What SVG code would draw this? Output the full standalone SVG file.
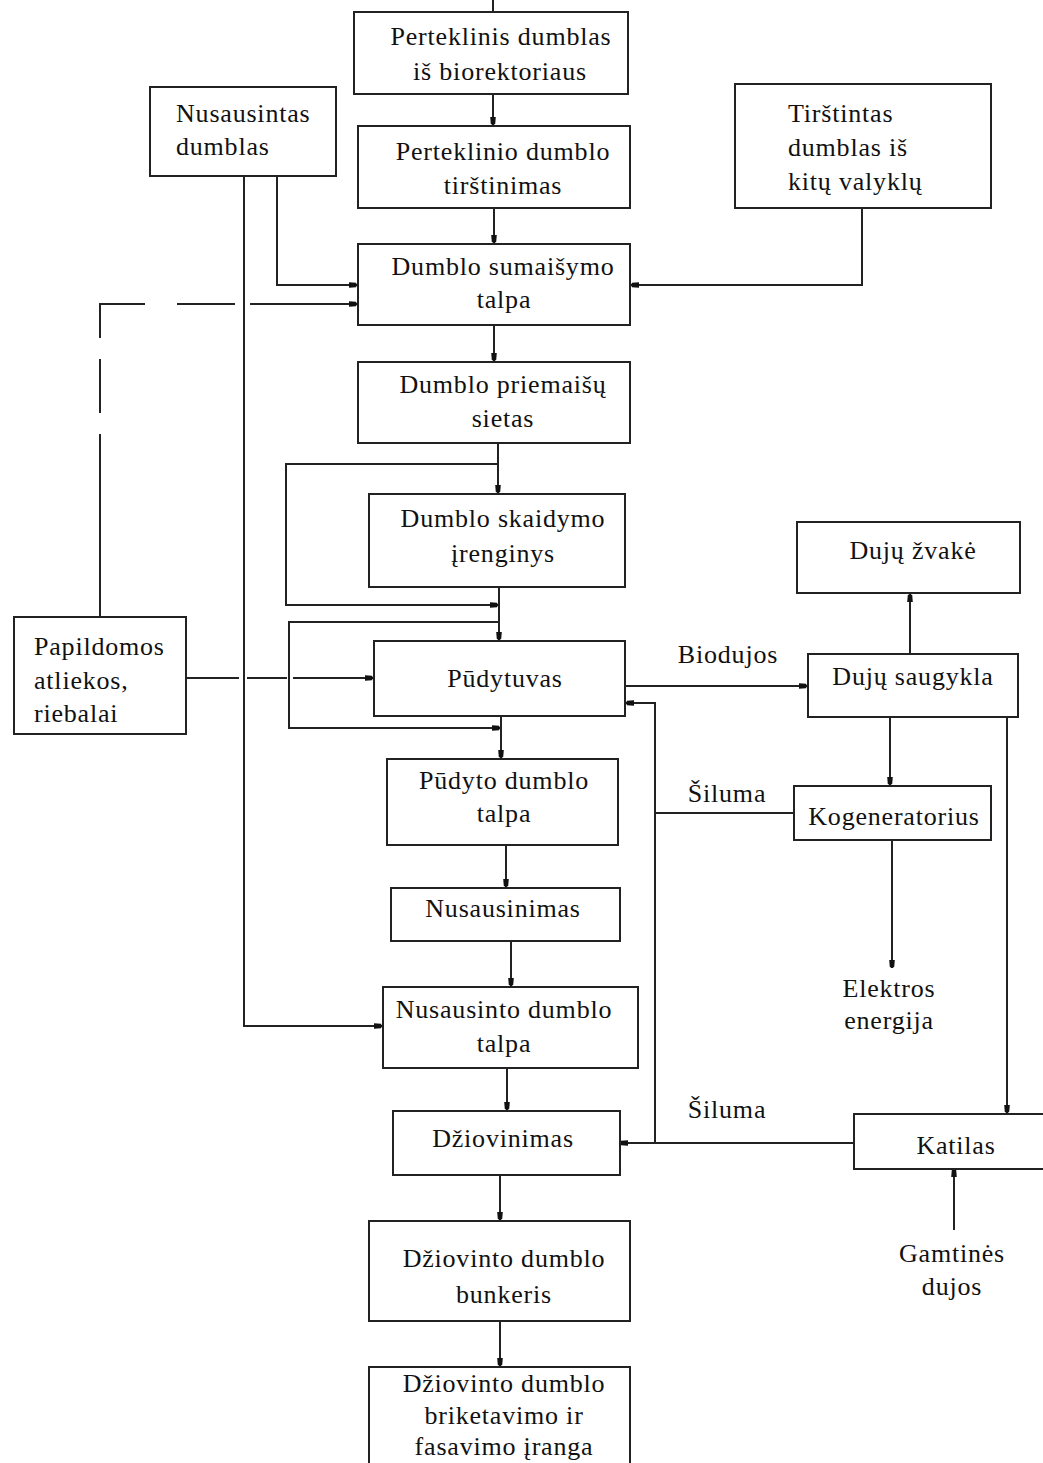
<svg xmlns="http://www.w3.org/2000/svg" width="1043" height="1463" viewBox="0 0 1043 1463">
<style>
  .box { fill: #fff; stroke: #222; stroke-width: 2; }
  .ln { fill: none; stroke: #222; stroke-width: 2; }
  .t { font-family: "Liberation Serif", "Times New Roman", serif; font-size: 26px; fill: #111; letter-spacing: 0.8px; }
  .c { text-anchor: middle; }
</style>
<defs>
  <marker id="ah" markerUnits="userSpaceOnUse" markerWidth="10" markerHeight="8" refX="8" refY="4" orient="auto">
    <path d="M0,1.2 L7,1.8 L8,4 L7,6.2 L0,6.8 Z" fill="#111"/>
  </marker>
</defs>
<rect width="1043" height="1463" fill="#fff"/>

<g id="connectors">
  <line class="ln" x1="493" y1="0" x2="493" y2="12"/>
  <line class="ln" x1="493" y1="94" x2="493" y2="125" marker-end="url(#ah)"/>
  <line class="ln" x1="494" y1="208" x2="494" y2="243" marker-end="url(#ah)"/>
  <path class="ln" d="M277,176 V285 H357" marker-end="url(#ah)"/>
  <path class="ln" d="M862,208 V285 H631" marker-end="url(#ah)"/>
  <path class="ln" d="M244,176 V1026 H382" marker-end="url(#ah)"/>
  <path class="ln" d="M100,617 V434 M100,413 V359 M100,338 V304 H145 M177,304 H235"/>
  <path class="ln" d="M250,304 H357" marker-end="url(#ah)"/>
  <line class="ln" x1="494" y1="325" x2="494" y2="361" marker-end="url(#ah)"/>
  <line class="ln" x1="498" y1="443" x2="498" y2="493" marker-end="url(#ah)"/>
  <path class="ln" d="M498,464 H286 V605 H498" marker-end="url(#ah)"/>
  <line class="ln" x1="499" y1="587" x2="499" y2="640" marker-end="url(#ah)"/>
  <path class="ln" d="M499,622 H289 V728 H500" marker-end="url(#ah)"/>
  <line class="ln" x1="501" y1="716" x2="501" y2="758" marker-end="url(#ah)"/>
  <path class="ln" d="M186,678 H239 M247,678 H287"/>
  <path class="ln" d="M293,678 H373" marker-end="url(#ah)"/>
  <line class="ln" x1="625" y1="686" x2="807" y2="686" marker-end="url(#ah)"/>
  <line class="ln" x1="910" y1="654" x2="910" y2="594" marker-end="url(#ah)"/>
  <line class="ln" x1="890" y1="717" x2="890" y2="785" marker-end="url(#ah)"/>
  <line class="ln" x1="1007" y1="717" x2="1007" y2="1113" marker-end="url(#ah)"/>
  <line class="ln" x1="794" y1="813" x2="655" y2="813"/>
  <path class="ln" d="M655,1143 V703 H626" marker-end="url(#ah)"/>
  <path class="ln" d="M854,1143 H620" marker-end="url(#ah)"/>
  <line class="ln" x1="892" y1="840" x2="892" y2="968" marker-end="url(#ah)"/>
  <line class="ln" x1="954" y1="1230" x2="954" y2="1169" marker-end="url(#ah)"/>
  <line class="ln" x1="506" y1="845" x2="506" y2="887" marker-end="url(#ah)"/>
  <line class="ln" x1="511" y1="941" x2="511" y2="986" marker-end="url(#ah)"/>
  <line class="ln" x1="507" y1="1068" x2="507" y2="1110" marker-end="url(#ah)"/>
  <line class="ln" x1="500" y1="1175" x2="500" y2="1220" marker-end="url(#ah)"/>
  <line class="ln" x1="500" y1="1321" x2="500" y2="1366" marker-end="url(#ah)"/>
</g>

<g id="n-perteklinis">
  <rect class="box" x="354" y="12" width="274" height="82"/>
  <text class="t c" x="501" y="45">Perteklinis dumblas</text>
  <text class="t c" x="500" y="80">iš biorektoriaus</text>
</g>
<g id="n-tirstinimas">
  <rect class="box" x="358" y="126" width="272" height="82"/>
  <text class="t c" x="503" y="160">Perteklinio dumblo</text>
  <text class="t c" x="503" y="194">tirštinimas</text>
</g>
<g id="n-nusausintas">
  <rect class="box" x="150" y="87" width="186" height="89"/>
  <text class="t" x="176" y="122">Nusausintas</text>
  <text class="t" x="176" y="155">dumblas</text>
</g>
<g id="n-kitu">
  <rect class="box" x="735" y="84" width="256" height="124"/>
  <text class="t" x="788" y="122">Tirštintas</text>
  <text class="t" x="788" y="156">dumblas iš</text>
  <text class="t" x="788" y="190">kitų valyklų</text>
</g>
<g id="n-sumaisymo">
  <rect class="box" x="358" y="244" width="272" height="81"/>
  <text class="t c" x="503" y="275">Dumblo sumaišymo</text>
  <text class="t c" x="504" y="308">talpa</text>
</g>
<g id="n-sietas">
  <rect class="box" x="358" y="362" width="272" height="81"/>
  <text class="t c" x="503" y="393">Dumblo priemaišų</text>
  <text class="t c" x="503" y="427">sietas</text>
</g>
<g id="n-skaidymo">
  <rect class="box" x="369" y="494" width="256" height="93"/>
  <text class="t c" x="503" y="527">Dumblo skaidymo</text>
  <text class="t c" x="503" y="562">įrenginys</text>
</g>
<g id="n-pudytuvas">
  <rect class="box" x="374" y="641" width="251" height="75"/>
  <text class="t c" x="505" y="687">Pūdytuvas</text>
</g>
<g id="n-papildomos">
  <rect class="box" x="14" y="617" width="172" height="117"/>
  <text class="t" x="34" y="655">Papildomos</text>
  <text class="t" x="34" y="689">atliekos,</text>
  <text class="t" x="34" y="722">riebalai</text>
</g>
<g id="n-zvake">
  <rect class="box" x="797" y="522" width="223" height="71"/>
  <text class="t c" x="913" y="559">Dujų žvakė</text>
</g>
<g id="n-saugykla">
  <rect class="box" x="808" y="654" width="210" height="63"/>
  <text class="t c" x="913" y="685">Dujų saugykla</text>
</g>
<g id="n-kogeneratorius">
  <rect class="box" x="794" y="786" width="197" height="54"/>
  <text class="t c" x="894" y="825">Kogeneratorius</text>
</g>
<g id="n-pudyto">
  <rect class="box" x="387" y="759" width="231" height="86"/>
  <text class="t c" x="504" y="789">Pūdyto dumblo</text>
  <text class="t c" x="504" y="822">talpa</text>
</g>
<g id="n-nusausinimas">
  <rect class="box" x="391" y="888" width="229" height="53"/>
  <text class="t c" x="503" y="917">Nusausinimas</text>
</g>
<g id="n-nusausinto">
  <rect class="box" x="383" y="987" width="255" height="81"/>
  <text class="t c" x="504" y="1018">Nusausinto dumblo</text>
  <text class="t c" x="504" y="1052">talpa</text>
</g>
<g id="n-dziovinimas">
  <rect class="box" x="393" y="1111" width="227" height="64"/>
  <text class="t c" x="503" y="1147">Džiovinimas</text>
</g>
<g id="n-katilas">
  <rect class="box" x="854" y="1114" width="200" height="55"/>
  <text class="t c" x="956" y="1154">Katilas</text>
</g>
<g id="n-bunkeris">
  <rect class="box" x="369" y="1221" width="261" height="100"/>
  <text class="t c" x="504" y="1267">Džiovinto dumblo</text>
  <text class="t c" x="504" y="1303">bunkeris</text>
</g>
<g id="n-briketavimo">
  <rect class="box" x="369" y="1367" width="261" height="110"/>
  <text class="t c" x="504" y="1392">Džiovinto dumblo</text>
  <text class="t c" x="504" y="1424">briketavimo ir</text>
  <text class="t c" x="504" y="1455">fasavimo įranga</text>
</g>

<g id="labels">
  <text class="t c" x="728" y="663">Biodujos</text>
  <text class="t c" x="727" y="802">Šiluma</text>
  <text class="t c" x="727" y="1118">Šiluma</text>
  <text class="t c" x="889" y="997">Elektros</text>
  <text class="t c" x="889" y="1029">energija</text>
  <text class="t c" x="952" y="1262">Gamtinės</text>
  <text class="t c" x="952" y="1295">dujos</text>
</g>
</svg>
